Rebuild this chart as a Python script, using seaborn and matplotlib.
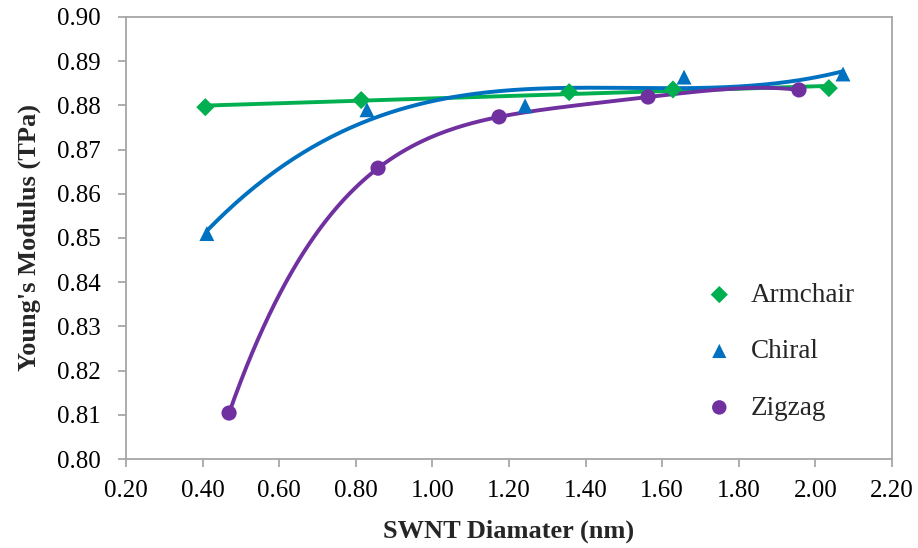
import numpy as np
import pandas as pd
import matplotlib
matplotlib.use("Agg")
import matplotlib.pyplot as plt
import seaborn as sns

# Data
armchair_x = [0.407, 0.814, 1.357, 1.628, 2.035]
armchair_y = [0.8796, 0.8812, 0.8830, 0.8836, 0.8839]
chiral_x = [0.411, 0.829, 1.242, 1.657, 2.072]
chiral_y = [0.8510, 0.8790, 0.8799, 0.8864, 0.8871]
zigzag_x = [0.469, 0.858, 1.174, 1.563, 1.957]
zigzag_y = [0.8104, 0.8658, 0.8774, 0.8819, 0.8835]

series_names = ["Armchair", "Chiral", "Zigzag"]
colors = {"Armchair": "#00B050", "Chiral": "#0070C0", "Zigzag": "#7030A0"}
markers = {"Armchair": "D", "Chiral": "^", "Zigzag": "o"}
fit_order = {"Armchair": 1, "Chiral": 3, "Zigzag": 4}

xticks = [0.20, 0.40, 0.60, 0.80, 1.00, 1.20, 1.40, 1.60, 1.80, 2.00, 2.20]
yticks = [0.80, 0.81, 0.82, 0.83, 0.84, 0.85, 0.86, 0.87, 0.88, 0.89, 0.90]

sns.set_theme(style="white")
plt.rcParams["font.family"] = ["Liberation Serif", "DejaVu Serif"]

pts = pd.concat([
    pd.DataFrame({"d": armchair_x, "E": armchair_y, "type": "Armchair"}),
    pd.DataFrame({"d": chiral_x, "E": chiral_y, "type": "Chiral"}),
    pd.DataFrame({"d": zigzag_x, "E": zigzag_y, "type": "Zigzag"}),
], ignore_index=True)

fits = []
for name in series_names:
    sub = pts[pts["type"] == name]
    c = np.polyfit(sub["d"], sub["E"], fit_order[name])
    xs = np.linspace(sub["d"].min(), sub["d"].max(), 200)
    fits.append(pd.DataFrame({"d": xs, "E": np.polyval(c, xs), "type": name}))
fits = pd.concat(fits, ignore_index=True)

fig = plt.figure(figsize=(9.18, 5.48), dpi=100)
ax = fig.add_axes([0.1373, 0.1624, 0.8344, 0.8066])

sns.lineplot(data=fits, x="d", y="E", hue="type", palette=colors,
             linewidth=2.8, legend=False, ax=ax, sort=False, estimator=None)
sizes = {"Armchair": 85, "Chiral": 115, "Zigzag": 120}
for name in series_names:
    sub = pts[pts["type"] == name]
    sns.scatterplot(data=sub, x="d", y="E", color=colors[name], marker=markers[name],
                    s=sizes[name], edgecolor="none", ax=ax, label=name, zorder=5)

ax.set_xlim(0.2, 2.2)
ax.set_ylim(0.80, 0.90)
ax.set_xticks(xticks)
ax.set_yticks(yticks)
ax.set_xticklabels([f"{v:.2f}" for v in xticks])
ax.set_yticklabels([f"{v:.2f}" for v in yticks])
ax.tick_params(axis="both", labelsize=18, colors="black", direction="out",
               length=6, width=1.2, color="#A0A0A0", left=True, bottom=True)
ax.tick_params(axis="x", pad=9)
ax.tick_params(axis="y", pad=12)
for sp in ax.spines.values():
    sp.set_color("#A6A6A6")
    sp.set_linewidth(1.3)

ax.set_xlabel("SWNT Diamater (nm)", fontsize=19, fontweight="bold", labelpad=13)
ax.set_ylabel("Young's Modulus (TPa)", fontsize=19, fontweight="bold", labelpad=12)

leg = ax.legend(loc="center left", bbox_to_anchor=(0.725, 0.243), frameon=False,
                fontsize=19.5, labelspacing=1.16, handletextpad=0.66, handlelength=1.0,
                markerscale=0.95)

fig.savefig("out.png", dpi=100)
